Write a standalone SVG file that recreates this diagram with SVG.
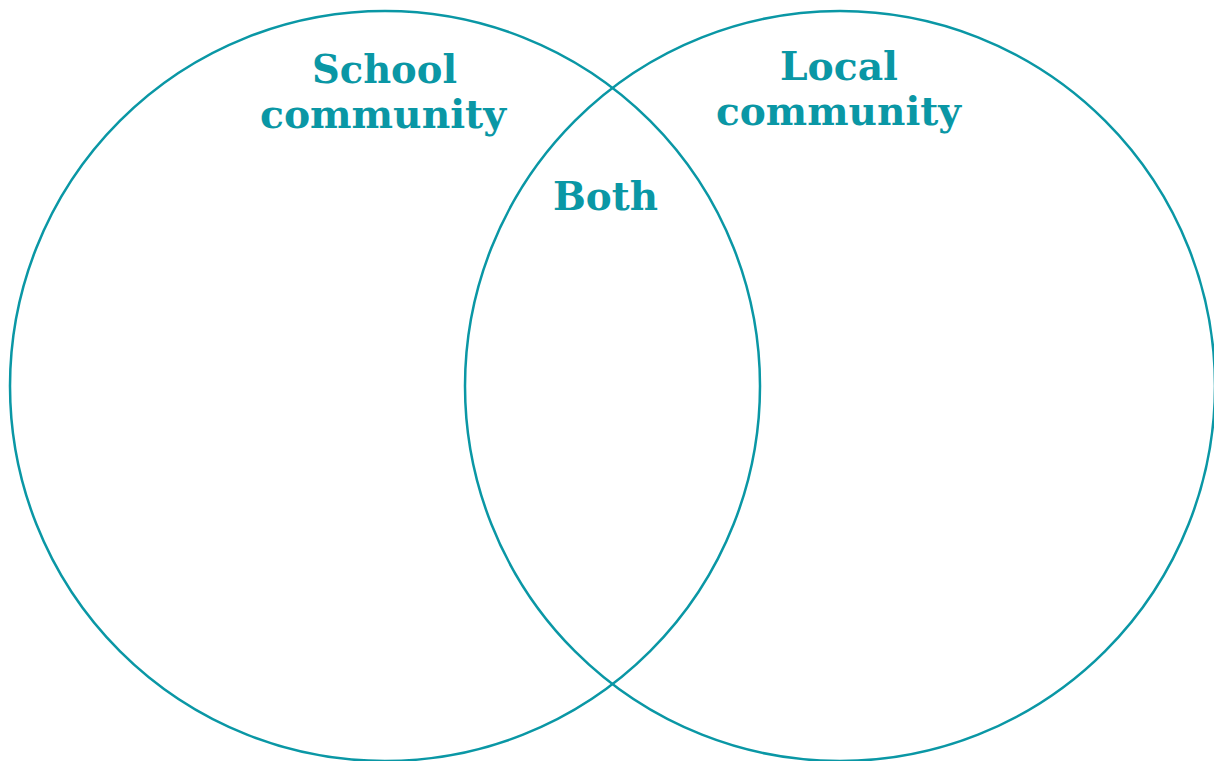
<svg xmlns="http://www.w3.org/2000/svg" width="1214" height="761" viewBox="0 0 1214 761">
<style>
.c{fill:none;stroke:#0a97a5;stroke-width:2.5}
.t{font-family:"DejaVu Serif","Liberation Serif",serif;font-weight:bold;font-size:40px;fill:#0a97a5;text-anchor:middle}
</style>
<rect width="1214" height="761" fill="#fff"/>
<g id="school">
<circle class="c" cx="385" cy="386" r="375"/>
<text class="t" x="384.5" y="83" textLength="145" lengthAdjust="spacingAndGlyphs">School</text>
<text class="t" x="383" y="128" textLength="246" lengthAdjust="spacingAndGlyphs">community</text>
</g>
<g id="local">
<circle class="c" cx="840" cy="386" r="375"/>
<text class="t" x="839" y="80" textLength="118" lengthAdjust="spacingAndGlyphs">Local</text>
<text class="t" x="838.5" y="125" textLength="245" lengthAdjust="spacingAndGlyphs">community</text>
</g>
<g id="both">
<text class="t" x="605.5" y="210" textLength="105" lengthAdjust="spacingAndGlyphs">Both</text>
</g>
<g id="connectors"/>
</svg>
